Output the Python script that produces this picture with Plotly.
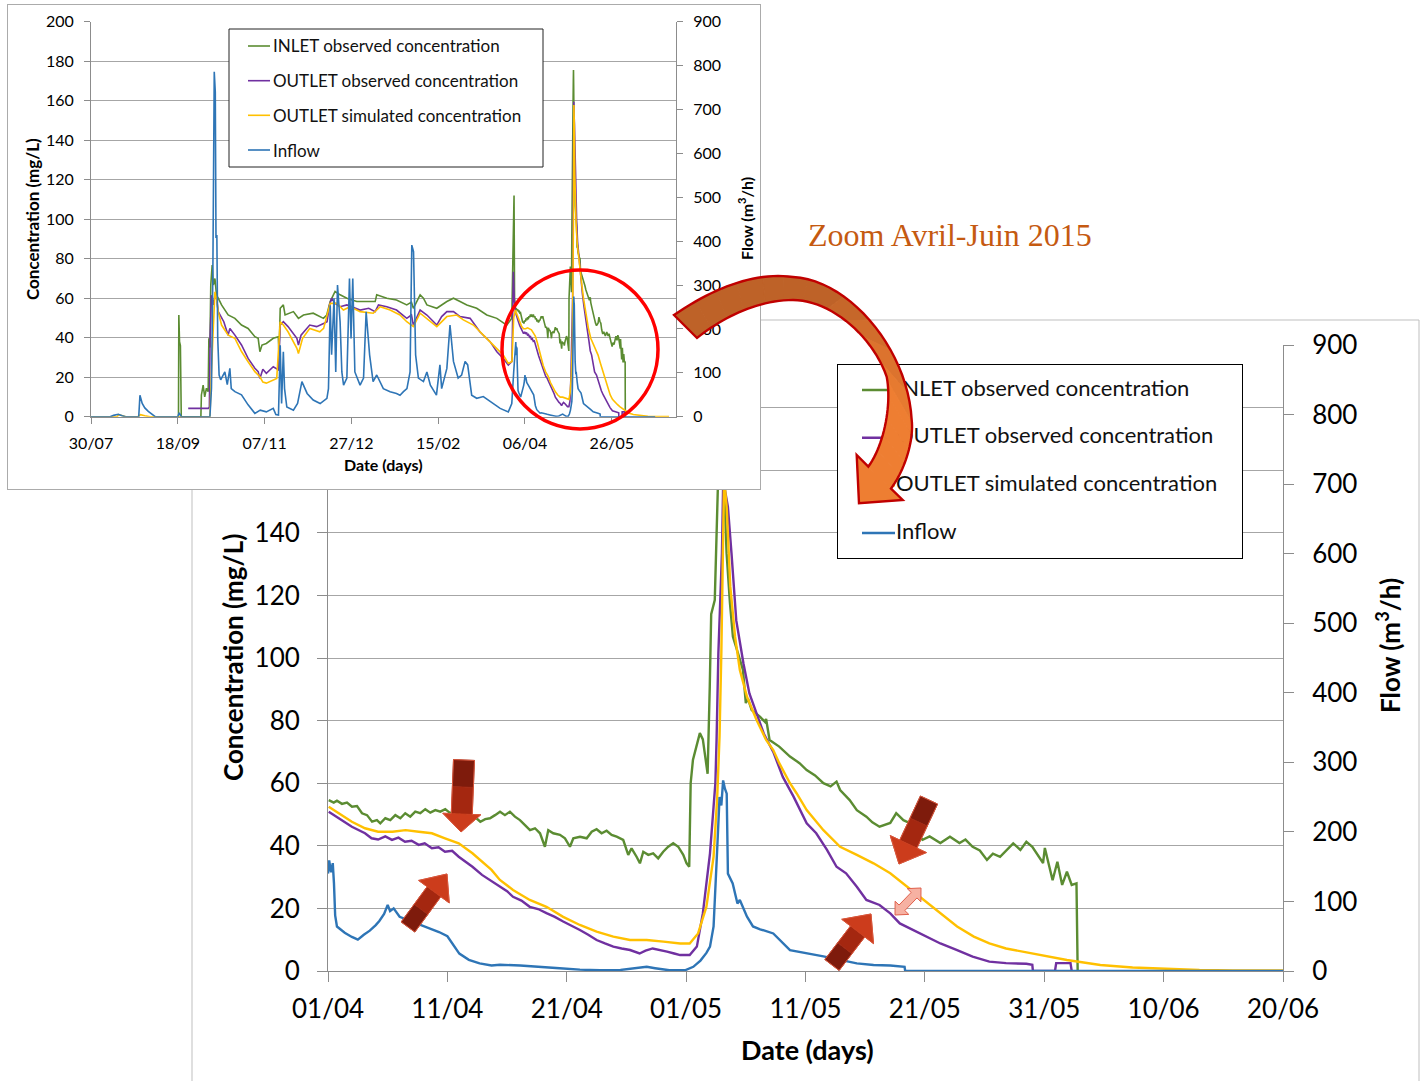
import numpy as np
import pandas as pd
import plotly.graph_objects as go

W, H = 1427, 1081

# ---------------------------------------------------------------- data
SERIES_START = "2014-07-30"      # first date of the full-period (inset) chart
ZOOM_START = "2015-04-01"        # first date of the zoomed chart
ZOOM_END = "2015-06-20"
INSET_SPAN_DAYS = 337

SERIES_NAMES = ["INLET observed concentration", "OUTLET observed concentration",
                "OUTLET simulated concentration", "Inflow"]
SERIES_COLORS = ["#5B8C32", "#7030A0", "#FFC000", "#2E75B6"]

CONC_RANGE = [0, 200]
CONC_STEP = 20
FLOW_RANGE = [0, 900]
FLOW_STEP = 100
ZOOM_TICK_DAYS = 10
INSET_TICK_DAYS = 50

# zoom period : (days since ZOOM_START, value)
inlet_zoom = [
    (0.06, 54.6), (0.48, 53.8), (0.75, 54.4), (1.17, 53.4), (1.59, 53.8), (2.01, 52.5),
    (2.43, 52.7), (2.85, 50.4), (3.27, 49.8), (3.69, 47.7), (4.10, 48.2), (4.38, 47.2),
    (4.80, 48.8), (5.22, 48.2), (5.64, 49.8), (6.06, 48.8), (6.47, 50.4), (6.89, 49.3),
    (7.31, 50.9), (7.73, 50.4), (8.15, 51.7), (8.57, 50.6), (8.99, 51.4), (9.41, 50.9),
    (9.82, 51.7), (10.24, 50.4), (10.66, 50.9), (11.08, 49.3), (11.50, 49.8), (11.92, 48.2),
    (12.34, 49.1), (12.76, 47.7), (13.17, 48.5), (13.57, 48.8), (13.99, 49.8), (14.41, 50.9),
    (14.82, 49.8), (15.24, 50.9), (15.66, 49.3), (16.08, 48.2), (16.50, 46.6), (16.92, 45.0),
    (17.34, 45.6), (17.76, 44.0), (18.17, 39.7), (18.45, 45.0), (18.87, 44.0), (19.43, 43.5),
    (19.85, 42.4), (20.27, 39.7), (20.55, 42.4), (21.11, 42.9), (21.67, 42.4), (22.09, 44.5),
    (22.50, 45.3), (22.92, 44.0), (23.34, 44.8), (23.76, 43.5), (24.18, 42.9), (24.73, 41.9),
    (25.15, 37.1), (25.43, 39.2), (25.85, 36.5), (26.13, 34.4), (26.41, 38.1), (26.83, 37.1),
    (27.24, 37.6), (27.66, 36.0), (28.08, 38.1), (28.50, 39.7), (28.92, 40.8), (29.34, 39.7),
    (29.76, 37.1), (30.04, 34.4), (30.26, 33.3), (30.38, 60.0), (30.57, 67.4), (31.15, 76.0),
    (31.40, 74.0), (31.70, 65.3), (31.80, 63.0), (31.98, 90.8), (32.10, 114.0), (32.40, 118.5),
    (32.55, 138.7), (32.66, 154.7), (32.85, 170.0), (32.95, 175.5), (33.05, 168.0), (33.25, 148.0),
    (33.39, 133.5), (33.67, 117.6), (33.92, 106.8), (34.34, 101.6), (34.76, 96.2), (35.00, 85.6),
    (35.18, 87.0), (35.49, 83.4), (36.20, 81.2), (36.60, 79.6), (36.70, 80.5), (36.99, 73.8),
    (37.80, 71.7), (38.70, 68.5), (39.50, 66.4), (40.10, 64.2), (40.80, 62.5), (41.50, 60.0),
    (42.10, 59.0), (42.60, 60.5), (42.90, 57.8), (43.70, 54.6), (44.30, 51.4), (45.10, 49.3),
    (45.60, 47.5), (46.20, 46.1), (47.10, 47.3), (47.60, 50.4), (48.20, 48.2), (48.70, 47.3),
    (49.20, 44.0), (49.80, 41.9), (50.40, 43.0), (51.30, 40.9), (52.10, 42.9), (52.90, 40.9),
    (53.40, 42.0), (54.00, 39.7), (54.60, 38.5), (55.20, 35.5), (55.70, 37.5), (56.30, 36.5),
    (56.80, 38.5), (57.40, 40.8), (58.00, 38.7), (58.50, 41.3), (59.00, 39.7), (59.60, 36.5),
    (59.90, 34.5), (60.05, 39.3), (60.70, 29.0), (61.10, 34.9), (61.50, 27.5), (61.90, 31.7),
    (62.30, 27.5), (62.70, 28.0), (62.80, 0.0)]

outlet_obs_zoom = [
    (0.06, 50.9), (0.9, 48.9), (2.0, 46.1), (3.1, 44.0), (3.65, 42.4), (4.2, 42.0), (4.8, 43.0),
    (5.36, 41.9), (5.9, 42.6), (6.45, 41.3), (7.0, 41.6), (7.6, 40.3), (8.1, 40.8), (8.7, 39.2),
    (9.26, 39.5), (9.8, 38.1), (10.4, 38.4), (10.95, 36.5), (11.5, 35.0), (12.1, 33.3),
    (12.9, 30.7), (13.6, 29.0), (14.4, 26.9), (15.0, 25.5), (15.5, 23.7), (16.2, 22.5),
    (16.9, 20.5), (17.6, 19.8), (18.3, 18.5), (19.0, 17.3), (19.7, 15.8), (20.4, 14.5),
    (21.1, 13.1), (21.8, 11.6), (22.5, 9.9), (23.2, 8.8), (23.9, 7.8), (24.6, 7.2), (25.3, 6.7),
    (26.1, 5.6), (26.6, 6.5), (27.2, 7.2), (27.8, 6.8), (28.4, 6.2), (29.0, 5.6), (29.5, 5.1),
    (30.3, 5.1), (30.9, 7.8), (31.4, 18.4), (32.0, 37.6), (32.3, 52.5), (32.45, 60.0),
    (32.55, 73.8), (32.7, 101.5), (33.0, 133.5), (33.12, 159.5), (33.25, 153.7), (33.5, 148.3),
    (33.8, 133.5), (34.2, 112.0), (34.8, 98.3), (35.3, 88.7), (36.2, 79.1), (36.5, 75.9),
    (37.3, 70.0), (38.1, 62.0), (39.0, 55.7), (40.1, 47.2), (40.9, 44.0), (41.8, 38.7),
    (42.6, 33.3), (43.4, 31.2), (44.3, 26.9), (45.1, 22.7), (46.2, 21.1), (47.1, 18.4),
    (47.9, 15.2), (49.0, 13.1), (50.1, 11.0), (51.3, 8.8), (52.7, 6.7), (54.0, 4.6), (55.4, 3.0),
    (56.8, 2.5), (58.5, 2.3), (59.0, 2.0), (59.05, 0.0), (60.9, 0.0), (61.0, 2.5), (62.2, 2.5),
    (62.3, 0.0)]

outlet_sim_zoom = [
    (0.06, 52.5), (0.9, 50.4), (2.0, 47.7), (3.1, 45.6), (4.2, 44.5), (5.4, 44.5), (6.5, 45.0),
    (7.6, 44.5), (8.7, 44.0), (9.8, 42.4), (10.95, 40.8), (12.1, 37.6), (12.9, 34.9),
    (13.7, 32.3), (14.4, 29.1), (15.5, 25.9), (16.9, 22.7), (18.3, 20.5), (19.7, 17.3),
    (21.1, 14.7), (22.5, 12.6), (23.9, 11.0), (25.3, 9.9), (26.7, 9.9), (28.1, 9.4), (29.5, 8.8),
    (30.3, 8.8), (31.0, 12.0), (31.7, 20.5), (32.3, 36.5), (32.6, 55.0), (32.8, 75.0),
    (32.95, 101.6), (33.08, 133.5), (33.18, 157.8), (33.4, 148.0), (33.7, 122.8), (34.1, 106.8),
    (34.5, 96.2), (35.1, 87.6), (35.9, 80.2), (36.7, 73.8), (37.3, 70.6), (37.8, 66.4),
    (38.7, 60.0), (39.25, 56.8), (40.1, 51.4), (41.5, 45.0), (42.9, 39.7), (44.3, 37.1),
    (45.7, 34.4), (47.1, 31.2), (48.5, 26.9), (49.9, 22.7), (51.3, 18.4), (52.7, 14.2),
    (54.1, 11.0), (55.4, 8.8), (56.8, 7.2), (58.2, 6.2), (59.6, 5.1), (61.9, 3.5), (64.7, 1.9),
    (67.4, 1.1), (70.2, 0.7), (73.0, 0.3), (75.8, 0.2), (80.0, 0.1), (88.0, 0.05)]

inflow_zoom = [
    (0.0, 140), (0.1, 159), (0.25, 142), (0.4, 155), (0.5, 126), (0.6, 80), (0.75, 64), (1.0, 60),
    (1.4, 55), (2.0, 49), (2.5, 45), (3.0, 52), (3.5, 58), (4.0, 66), (4.3, 72), (4.7, 82),
    (5.0, 95), (5.2, 86), (5.5, 90), (6.0, 78), (6.9, 72), (7.5, 68), (8.1, 64), (9.3, 56),
    (10.0, 50), (10.5, 38), (11.0, 25), (11.8, 16), (12.7, 11), (13.7, 8), (14.4, 9), (16.1, 8),
    (17.8, 5.5), (19.4, 4), (21.1, 2), (22.8, 1), (24.5, 1.5), (26.1, 4), (26.7, 6), (27.4, 4),
    (28.6, 1), (29.9, 1), (30.6, 6), (31.2, 15), (31.7, 26), (32.0, 35), (32.3, 64), (32.6, 174),
    (32.8, 250), (32.95, 238), (33.1, 274), (33.25, 262), (33.4, 255), (33.5, 140), (33.9, 126),
    (34.3, 97), (34.5, 102), (35.1, 78), (35.6, 64), (36.2, 60), (37.3, 54), (38.7, 30),
    (40.1, 26), (41.5, 21), (42.9, 16), (44.3, 11), (45.7, 8.6), (47.1, 8), (48.3, 6),
    (48.35, 0), (80.0, 0)]

# earlier period (inset only) : (days since SERIES_START, value)
inlet_early = [
    (50.4, 0), (50.6, 51.5), (51.0, 38), (51.5, 36), (52.0, 0), (63.3, 0), (63.6, 11), (64.6, 16),
    (65.5, 10), (66.5, 14.4), (67.5, 12.7), (67.9, 39.7), (68.5, 35), (69.0, 66.7), (69.8, 76.8),
    (70.5, 66.7), (71.4, 70), (72.3, 61.5), (73.3, 60), (75.2, 56.6), (79.0, 51.5), (82.9, 49.8),
    (86.7, 46.4), (90.5, 44.7), (94.4, 40.5), (96.3, 39.7), (97.3, 32.9), (98.5, 36.3),
    (101, 37.1), (105, 39.7), (107.9, 40.5), (108.3, 31), (109, 54.9), (110.8, 56.6),
    (111.8, 51.5), (116.6, 53.2), (119.5, 49.8), (122.4, 51.5), (128, 52.4), (133.9, 49.8),
    (135.8, 51.5), (136.8, 54.9), (137.8, 58.3), (140.6, 63.4), (143.5, 61.7), (147.4, 60),
    (153.1, 58.3), (158.9, 58.3), (163.7, 58.3), (164.6, 61.7), (170.4, 60), (176, 59.1),
    (181.9, 56.6), (184.6, 58), (185.7, 54.9), (189.6, 61.7), (191.5, 60), (193.5, 56.6),
    (199.2, 54.9), (205, 58.3), (208.8, 60), (212.6, 58.3), (216.5, 56.6), (222.2, 54.9),
    (228, 51.5), (233.8, 49.8), (239.5, 46.4), (242.4, 49.8), (243.7, 112), (244.0, 60),
    (244.5, 55)]

outlet_obs_early = [
    (56.0, 4.2), (67.6, 4.2), (68.2, 5), (68.6, 40), (69.4, 61.5), (70.5, 56.6), (71.4, 61.5),
    (72.3, 60), (73.3, 53.2), (75.2, 49.8), (76.5, 48.1), (79.0, 41.3), (80.0, 44.7),
    (82.9, 41.3), (86.7, 36.3), (90.5, 29.5), (94.4, 24.5), (96.3, 22.8), (97.3, 19.4),
    (99, 24), (101, 22), (105, 25.3), (108, 23.7), (109, 46.4), (110.8, 48.1), (113.5, 45.6),
    (118.6, 39.7), (119.5, 36.3), (121, 41.3), (126, 46.4), (130, 45.6), (134, 47.2), (136, 48.1),
    (137.4, 56.6), (138.6, 60), (140.6, 57.4), (143.5, 55.7), (147.4, 56.6), (150.3, 55.7),
    (155, 54), (160, 54.9), (163.7, 53.2), (165.6, 56.6), (170.4, 55.7), (176, 54),
    (181.9, 49.8), (184.6, 51.5), (185.7, 46.4), (189.6, 54), (193.5, 51.5), (199.2, 46.4),
    (202, 50.7), (205, 53.2), (208.8, 53.2), (212.6, 50.7), (218.4, 49.8), (224, 43),
    (229.9, 38), (233.8, 32.9), (237.5, 29.5), (240.4, 26.2), (242.5, 28), (243.3, 73.4),
    (243.8, 60), (244.5, 53)]

outlet_sim_early = [
    (0, 0), (15, 0), (16, 1), (18, 0.5), (20, 0), (27, 0), (28.5, 1), (31, 0.5), (34, 0),
    (68.5, 0), (69.0, 9), (69.4, 22.8), (70.2, 39.7), (71.4, 63.2), (72.3, 60), (73.3, 53.2),
    (75.2, 46.4), (79.0, 41.3), (82.9, 39.7), (86.7, 33), (90.5, 27.8), (94.4, 22.8),
    (97.3, 20.2), (99, 17.5), (101, 17), (107, 19.4), (109, 48.1), (110.8, 46.4), (113.5, 43),
    (118.6, 34.6), (119.5, 32), (121.9, 39.7), (126, 44.7), (131.8, 43), (134, 44.7),
    (137.8, 57.4), (141.7, 57.4), (145.4, 54), (149.3, 55.7), (155, 53.2), (162.6, 52.4),
    (166.6, 55.7), (172.3, 54), (178, 51.5), (181.9, 48.1), (185.7, 45.6), (189.6, 52.4),
    (193.5, 49.8), (199.2, 45.6), (205, 50.7), (210.7, 51.5), (214.5, 49), (220.3, 46.4),
    (226, 41.3), (231.8, 36.3), (237.5, 31.2), (240.4, 27), (242.5, 28), (243.5, 50),
    (244.5, 54)]

inflow_early = [
    (0, 0), (11, 0), (13, 3), (15.7, 5.5), (18, 2), (20, 0), (27.5, 0), (28.2, 49), (29.5, 30),
    (31, 20), (33, 12), (35, 5), (37, 0), (50, 0), (50.8, 9), (52, 0), (68.5, 0), (69.4, 65),
    (70.2, 330), (71.0, 786), (71.6, 740), (72.0, 407), (72.5, 414), (73.0, 179), (73.8, 95),
    (74.7, 84), (77.1, 102), (78.5, 73), (80.0, 110), (80.8, 64), (82.9, 57), (86.7, 50),
    (90.5, 27), (94.4, 7.6), (97.5, 15), (101, 11), (105, 19), (106.5, 5), (108, 4), (109, 163),
    (109.8, 30), (110.8, 148), (111.5, 64), (112.8, 22), (116.6, 15), (119, 30), (121.5, 80),
    (124.5, 53), (128, 38), (132, 30), (135.9, 42), (136.8, 64), (137.8, 254), (138.6, 141),
    (140, 270), (141, 102), (142, 300), (143.5, 216), (144.5, 102), (145.5, 72), (147.4, 88),
    (148.9, 315), (149.8, 178), (150.8, 315), (152, 102), (155, 72), (157, 88), (158.5, 239),
    (160.5, 141), (162.5, 80), (164.6, 95), (168.4, 64), (172.3, 57), (176, 53), (178, 49),
    (180, 57), (182, 64), (183.8, 102), (184.8, 391), (185.8, 376), (186.3, 254), (187, 141),
    (188.6, 88), (191.5, 80), (193.5, 102), (195.5, 72), (199, 49), (201, 118), (202, 64),
    (205, 110), (206.8, 209), (208.8, 126), (211.5, 88), (213.5, 95), (215.5, 126), (217, 118),
    (219.3, 49), (222.2, 42), (226, 46), (231.8, 30), (235.7, 19), (240.4, 11), (242.4, 30),
    (243.5, 102), (244.3, 150), (244.7, 170)]

ZOOM_SERIES = [inlet_zoom, outlet_obs_zoom, outlet_sim_zoom, inflow_zoom]
EARLY_SERIES = [inlet_early, outlet_obs_early, outlet_sim_early, inflow_early]
ON_FLOW_AXIS = [False, False, False, True]

# ---------------------------------------------------------------- helpers
def fx(p):
    return p / W


def fy(p):
    return 1 - p / H


def to_dates(start, days):
    return pd.Timestamp(start) + pd.to_timedelta(np.asarray(days, dtype=float), unit="D")


def split(pairs):
    return [p[0] for p in pairs], [p[1] for p in pairs]


def pt(x, y):
    return f"{fx(x):.5f},{fy(y):.5f}"


def poly_path(pts):
    return "M " + " L ".join(pt(x, y) for x, y in pts) + " Z"


FONT = "Lato"
TXT = "#000000"
AXC = "#8C8C8C"
GRID = "#A6A6A6"
DAY_MS = 86400000

fig = go.Figure()

# ---------------------------------------------------------------- zoomed chart (x / y / y2)
for pairs, name, col, flow in zip(ZOOM_SERIES, SERIES_NAMES, SERIES_COLORS, ON_FLOW_AXIS):
    d, v = split(pairs)
    fig.add_trace(go.Scatter(x=to_dates(ZOOM_START, d), y=v, mode="lines", name=name,
                             line=dict(color=col, width=2.4), xaxis="x",
                             yaxis="y2" if flow else "y", showlegend=False))

# ---------------------------------------------------------------- inset frame (x2 / y3)
fig.add_trace(go.Scatter(x=[None], y=[None], mode="lines", xaxis="x2", yaxis="y3",
                         showlegend=False, hoverinfo="skip"))

# ---------------------------------------------------------------- inset chart (x3 / y4 / y5)
for early, zoom, name, col, flow in zip(EARLY_SERIES, ZOOM_SERIES, SERIES_NAMES,
                                        SERIES_COLORS, ON_FLOW_AXIS):
    de, ve = split(early)
    dz, vz = split(zoom)
    xs = list(to_dates(SERIES_START, de)) + list(to_dates(ZOOM_START, dz))
    fig.add_trace(go.Scatter(x=xs, y=ve + vz, mode="lines", name=name,
                             line=dict(color=col, width=1.6), xaxis="x3",
                             yaxis="y5" if flow else "y4", showlegend=False))

# ---------------------------------------------------------------- zoom legend box (x4 / y6)
BL = dict(x0=838, x1=1242, y0=365, y1=558)
BL_ROWS = [390, 437.7, 485.3, 533]


def bl_x(p):
    return (p - BL["x0"]) / (BL["x1"] - BL["x0"])


def bl_y(p):
    return (BL["y1"] - p) / (BL["y1"] - BL["y0"])


for name, col, row in zip(SERIES_NAMES, SERIES_COLORS, BL_ROWS):
    fig.add_trace(go.Scatter(x=[bl_x(862), bl_x(895)], y=[bl_y(row)] * 2, mode="lines",
                             line=dict(color=col, width=2.5), xaxis="x4", yaxis="y6",
                             showlegend=False, hoverinfo="skip"))
fig.add_trace(go.Scatter(x=[bl_x(896)] * 4, y=[bl_y(r) for r in BL_ROWS], mode="text",
                         text=SERIES_NAMES, textposition="middle right",
                         textfont=dict(family=FONT, size=22, color="#111111"),
                         xaxis="x4", yaxis="y6", showlegend=False, hoverinfo="skip"))

# ---------------------------------------------------------------- axes
def date_axis(domain, anchor, start, end, dtick_days, size, ticklen, standoff):
    return dict(domain=domain, anchor=anchor, type="date", range=[start, end],
                tick0=start, dtick=dtick_days * DAY_MS, tickformat="%d/%m",
                ticks="outside", ticklen=ticklen, tickcolor=AXC, showline=True,
                linecolor=AXC, linewidth=1, showgrid=False, zeroline=False,
                tickfont=dict(family=FONT, size=size, color=TXT),
                ticklabelstandoff=standoff, automargin=False)


def val_axis(domain, anchor, rng, step, size, ticklen, standoff, grid, side="left",
             overlaying=None):
    ax = dict(domain=domain, anchor=anchor, range=rng, dtick=step, tick0=0,
              ticks="outside", ticklen=ticklen, tickcolor=AXC, showline=True,
              linecolor=AXC, linewidth=1, showgrid=grid, gridcolor=GRID, gridwidth=1,
              zeroline=False, side=side, tickfont=dict(family=FONT, size=size, color=TXT),
              ticklabelstandoff=standoff, automargin=False)
    if overlaying:
        ax["overlaying"] = overlaying
        ax.pop("domain")
    return ax


def blank_axis(domain, anchor, rng, color):
    return dict(domain=domain, anchor=anchor, range=rng, showline=True, mirror=True,
                linecolor=color, linewidth=1, showgrid=False, zeroline=False,
                showticklabels=False, ticks="", fixedrange=True, automargin=False)


inset_end = (pd.Timestamp(SERIES_START) + pd.Timedelta(days=INSET_SPAN_DAYS)).strftime("%Y-%m-%d")

layout = dict(
    width=W, height=H, autosize=False,
    margin=dict(l=0, r=0, t=0, b=0, pad=0, autoexpand=False),
    paper_bgcolor="white", plot_bgcolor="white", showlegend=False,
    font=dict(family=FONT, color=TXT),
    xaxis=date_axis([fx(328), fx(1283)], "y", ZOOM_START, ZOOM_END, ZOOM_TICK_DAYS, 26, 10, 5),
    yaxis=val_axis([fy(971), fy(345)], "x", CONC_RANGE, CONC_STEP, 26, 10, 12, True),
    yaxis2=val_axis(None, "x", FLOW_RANGE, FLOW_STEP, 26, 10, 13, False, "right", "y"),
    xaxis2=blank_axis([fx(8), fx(760)], "y3", [0, 1], "#ABABAB"),
    yaxis3=blank_axis([fy(489), fy(5)], "x2", [0, 1], "#ABABAB"),
    xaxis3=date_axis([fx(91), fx(676)], "y4", SERIES_START, inset_end, INSET_TICK_DAYS, 16, 6, 6),
    yaxis4=val_axis([fy(416.7), fy(21.7)], "x3", CONC_RANGE, CONC_STEP, 16, 6, 7, True),
    yaxis5=val_axis(None, "x3", FLOW_RANGE, FLOW_STEP, 16, 6, 7, False, "right", "y4"),
    xaxis4=blank_axis([fx(BL["x0"]), fx(BL["x1"])], "y6", [0, 1], "#000000"),
    yaxis6=blank_axis([fy(BL["y1"]), fy(BL["y0"])], "x4", [0, 1], "#000000"),
)

# ---------------------------------------------------------------- annotations (titles)
ann = []


def title(text, x, y, size, angle=0):
    ann.append(dict(text=text, x=fx(x), y=fy(y), xref="paper", yref="paper",
                    showarrow=False, textangle=angle, xanchor="center", yanchor="middle",
                    font=dict(family=FONT, size=size, color=TXT, weight="bold")))


title("Concentration (mg/L)", 233, 658, 26, -90)
title("Flow (m<sup>3</sup>/h)", 1388, 646, 26, -90)
title("Date (days)", 807, 1049, 27)
title("Concentration (mg/L)", 33, 219, 17, -90)
title("Flow (m<sup>3</sup>/h)", 746, 219, 16, -90)
title("Date (days)", 383.5, 465, 16)

ann.append(dict(text="Zoom Avril-Juin 2015", x=fx(950), y=fy(235), xref="paper", yref="paper",
                showarrow=False, xanchor="center", yanchor="middle",
                font=dict(family="Liberation Serif", size=32, color="#C55A11")))

# inset legend texts
IL = dict(x0=229, x1=543, y0=29, y1=167)
IL_ROWS = [46, 80.7, 115.3, 150]
for name, row in zip(SERIES_NAMES, IL_ROWS):
    ann.append(dict(text=name, x=fx(271), y=fy(row), xref="paper", yref="paper",
                    showarrow=False, xanchor="left", yanchor="middle",
                    font=dict(family=FONT, size=17, color="#111111")))

# ---------------------------------------------------------------- shapes
shapes = []
FRAME = "#BFBFBF"
for (x0, y0, x1, y1) in [(192, 320, 192, 1081), (192, 320, 1419, 320), (1419, 320, 1419, 1081)]:
    shapes.append(dict(type="line", xref="paper", yref="paper", x0=fx(x0), y0=fy(y0),
                       x1=fx(x1), y1=fy(y1), line=dict(color=FRAME, width=1), layer="below"))

# inset legend box + samples
shapes.append(dict(type="rect", xref="paper", yref="paper", x0=fx(IL["x0"]), x1=fx(IL["x1"]),
                   y0=fy(IL["y1"]), y1=fy(IL["y0"]), fillcolor="white",
                   line=dict(color="#222222", width=1), layer="above"))
for col, row in zip(SERIES_COLORS, IL_ROWS):
    shapes.append(dict(type="line", xref="paper", yref="paper", x0=fx(248), x1=fx(270),
                       y0=fy(row), y1=fy(row), line=dict(color=col, width=1.6), layer="above"))

# red circle
shapes.append(dict(type="circle", xref="paper", yref="paper", x0=fx(502), x1=fx(658),
                   y0=fy(429), y1=fy(270), line=dict(color="#FF0000", width=3.5), layer="above"))


# red block arrows on the zoomed chart
def arrow_pieces(tail, tip, shaft_w, head_w, head_len):
    t = np.array(tail, float)
    h = np.array(tip, float)
    d = h - t
    u = d / np.linalg.norm(d)
    n = np.array([-u[1], u[0]])
    b = h - u * head_len
    m = (t + b) / 2
    s = shaft_w / 2
    p1 = [t + n * s, m + n * s, m - n * s, t - n * s]
    p2 = [m + n * s, b + n * s, b - n * s, m - n * s]
    p3 = [b + n * s, b + n * head_w / 2, h, b - n * head_w / 2, b - n * s]
    outline = [t + n * s, b + n * s, b + n * head_w / 2, h, b - n * head_w / 2, b - n * s, t - n * s]
    return p1, p2, p3, outline


def add_block_arrow(tail, tip, shaft_w, head_w, head_len, cols, edge):
    p1, p2, p3, outline = arrow_pieces(tail, tip, shaft_w, head_w, head_len)
    for poly, c in zip([p1, p2, p3], cols):
        shapes.append(dict(type="path", xref="paper", yref="paper", path=poly_path(poly),
                           fillcolor=c, line=dict(color=c, width=0.8), layer="above"))
    shapes.append(dict(type="path", xref="paper", yref="paper", path=poly_path(outline),
                       fillcolor="rgba(0,0,0,0)", line=dict(color=edge, width=1), layer="above"))


RED_COLS = ["#7E1B0C", "#A42710", "#CC3C1C"]
add_block_arrow((464, 760), (461, 832), 21, 38, 18, RED_COLS, "#D9553A")
add_block_arrow((408, 927), (447, 874), 17, 38, 22, RED_COLS, "#D9553A")
add_block_arrow((929, 800), (899, 864), 19, 40, 22, RED_COLS, "#D9553A")
add_block_arrow((832, 965), (871, 914), 18, 40, 22, RED_COLS, "#D9553A")

# small double arrow
da, db = np.array((895.0, 915.0)), np.array((921.0, 888.0))
u = (db - da) / np.linalg.norm(db - da)
nrm = np.array([-u[1], u[0]])
hl, sw, hw = 10, 8, 19
ba, bb = da + u * hl, db - u * hl
dbl = [da, ba + nrm * hw / 2, ba + nrm * sw / 2, bb + nrm * sw / 2, bb + nrm * hw / 2, db,
       bb - nrm * hw / 2, bb - nrm * sw / 2, ba - nrm * sw / 2, ba - nrm * hw / 2]
shapes.append(dict(type="path", xref="paper", yref="paper", path=poly_path(dbl),
                   fillcolor="#F6B1A2", line=dict(color="#E0604C", width=1), layer="above"))


# curved orange arrow
def bez(p0, p1, p2, p3, n=24):
    t = np.linspace(0, 1, n)[:, None]
    p0, p1, p2, p3 = (np.array(p, float) for p in (p0, p1, p2, p3))
    return (1 - t) ** 3 * p0 + 3 * (1 - t) ** 2 * t * p1 + 3 * (1 - t) * t ** 2 * p2 + t ** 3 * p3


OUTER = [((674, 315), (715, 287), (755, 272), (793, 277)),
         ((793, 277), (850, 280), (908, 350), (911.7, 420)),
         ((911.7, 420), (914, 440), (905, 470), (891, 488.5))]
INNER = [((697, 338), (722, 318), (757, 300), (793, 300)),
         ((793, 300), (830, 300), (872, 335), (886.7, 376.7)),
         ((886.7, 376.7), (892, 405), (884, 445), (868.3, 466.7))]
HEAD = [(868.3, 466.7), (856.7, 455), (859, 503.3), (902.7, 500), (891, 488.5)]

outer = np.vstack([bez(*seg) if i == 0 else bez(*seg)[1:] for i, seg in enumerate(OUTER)])
inner = np.vstack([bez(*seg) if i == 0 else bez(*seg)[1:] for i, seg in enumerate(INNER)])
C_BROWN = np.array([190, 98, 40])
C_ORANGE = np.array([238, 126, 50])
nseg = 16
idx = np.linspace(0, len(outer) - 1, nseg + 1).astype(int)
for k in range(nseg):
    i0, i1 = idx[k], idx[k + 1]
    poly = list(outer[i0:i1 + 1]) + list(inner[i0:i1 + 1][::-1])
    f = float(np.clip(((k + 0.5) / nseg - 0.42) / 0.28, 0, 1))
    c = C_BROWN + (C_ORANGE - C_BROWN) * f
    col = "rgb(%d,%d,%d)" % tuple(c.round().astype(int))
    shapes.append(dict(type="path", xref="paper", yref="paper", path=poly_path(poly),
                       fillcolor=col, line=dict(color=col, width=1), layer="above"))
hc = "rgb(%d,%d,%d)" % tuple(C_ORANGE)
shapes.append(dict(type="path", xref="paper", yref="paper", path=poly_path(HEAD),
                   fillcolor=hc, line=dict(color=hc, width=1), layer="above"))
outline = list(outer) + HEAD[::-1][1:-1] + list(inner[::-1])
shapes.append(dict(type="path", xref="paper", yref="paper", path=poly_path(outline),
                   fillcolor="rgba(0,0,0,0)", line=dict(color="#C00000", width=2.4),
                   layer="above"))

layout["annotations"] = ann
layout["shapes"] = shapes
fig.update_layout(**layout)
# the page body margin is removed so that figure pixels line up with the window
fig.write_html("out.html", config={"displayModeBar": False},
               post_script="document.body.style.margin='0px';")
